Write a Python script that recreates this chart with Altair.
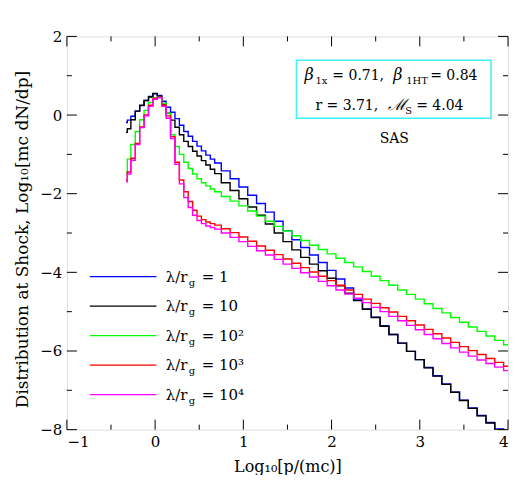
import altair as alt
import pandas as pd

# ---------------- data ----------------
x_vals = [-0.33, -0.30, -0.25, -0.20, -0.15, -0.10, -0.05, 0.00, 0.05, 0.10, 0.15,
          0.20, 0.25, 0.30, 0.35, 0.40, 0.45, 0.50, 0.55, 0.60, 0.65, 0.70,
          0.8, 0.9, 1.0, 1.1, 1.2, 1.3, 1.4, 1.5, 1.6, 1.7, 1.8, 1.9, 2.0, 2.1,
          2.2, 2.3, 2.4, 2.5, 2.6, 2.7, 2.8, 2.9, 3.0, 3.1, 3.2, 3.3, 3.4, 3.5,
          3.6, 3.7, 3.8, 3.9, 4.0]

y_blue = [-0.19, -0.13, -0.03, 0.10, 0.24, 0.37, 0.47, 0.54, 0.50, 0.35, 0.20,
          0.07, -0.09, -0.26, -0.42, -0.54, -0.67, -0.79, -0.91, -1.02, -1.12, -1.22,
          -1.42, -1.62, -1.83, -2.04, -2.25, -2.47, -2.70, -2.94, -3.17, -3.37, -3.56,
          -3.75, -3.95, -4.17, -4.40, -4.68, -4.93, -5.14, -5.36, -5.58, -5.80, -6.01,
          -6.22, -6.42, -6.63, -6.84, -7.05, -7.25, -7.45, -7.64, -7.82, -7.98, -8.15]

y_black = [-0.44, -0.35, -0.12, 0.10, 0.25, 0.37, 0.46, 0.55, 0.48, 0.27, 0.05,
           -0.13, -0.31, -0.50, -0.67, -0.80, -0.92, -1.04, -1.16, -1.27, -1.38, -1.49,
           -1.72, -1.92, -2.13, -2.34, -2.55, -2.77, -3.00, -3.22, -3.43, -3.62, -3.79,
           -3.96, -4.15, -4.34, -4.53, -4.72, -4.94, -5.15, -5.37, -5.58, -5.80, -6.01,
           -6.22, -6.43, -6.64, -6.85, -7.05, -7.26, -7.46, -7.65, -7.83, -8.00, -8.18]

y_green = [-1.48, -1.12, -0.75, -0.42, -0.12, 0.12, 0.32, 0.44, 0.45, 0.30, 0.05,
           -0.50, -0.80, -1.00, -1.20, -1.36, -1.50, -1.62, -1.72, -1.80, -1.88, -1.95,
           -2.07, -2.19, -2.31, -2.44, -2.57, -2.70, -2.83, -2.95, -3.07, -3.19, -3.31,
           -3.42, -3.53, -3.64, -3.75, -3.86, -3.98, -4.10, -4.21, -4.33, -4.45, -4.56,
           -4.68, -4.80, -4.92, -5.03, -5.15, -5.27, -5.39, -5.50, -5.62, -5.73, -5.84]

y_red = [-1.65, -1.45, -1.10, -0.72, -0.30, 0.00, 0.25, 0.42, 0.45, 0.25, -0.02,
         -0.55, -1.20, -1.65, -1.95, -2.20, -2.42, -2.57, -2.66, -2.72, -2.76, -2.80,
         -2.89, -2.99, -3.10, -3.21, -3.33, -3.44, -3.55, -3.66, -3.77, -3.88, -3.99,
         -4.10, -4.21, -4.33, -4.45, -4.56, -4.68, -4.79, -4.90, -5.01, -5.12, -5.23,
         -5.34, -5.45, -5.56, -5.67, -5.78, -5.89, -5.99, -6.09, -6.19, -6.29, -6.39]

y_magenta = [-1.70, -1.50, -1.15, -0.75, -0.32, -0.02, 0.22, 0.40, 0.44, 0.22, -0.08,
             -0.60, -1.25, -1.75, -2.10, -2.35, -2.55, -2.68, -2.76, -2.82, -2.86, -2.90,
             -3.00, -3.11, -3.22, -3.34, -3.45, -3.56, -3.67, -3.79, -3.90, -4.01, -4.12,
             -4.23, -4.34, -4.45, -4.55, -4.66, -4.77, -4.89, -5.00, -5.12, -5.23, -5.35,
             -5.46, -5.58, -5.69, -5.81, -5.92, -6.03, -6.13, -6.23, -6.32, -6.41, -6.50]

series_keys = ["s1", "s10", "s100", "s1000", "s10000"]
series_values = ["1", "10", "10²", "10³", "10⁴"]
series_colors = ["#0000ff", "#000000", "#00ff00", "#ff0000", "#ff00ff"]
series_y = [y_blue, y_black, y_green, y_red, y_magenta]

x_ticks = [-1, 0, 1, 2, 3, 4]
y_ticks = [2, 0, -2, -4, -6, -8]
x_minor = [-0.5, 0.5, 1.5, 2.5, 3.5]
y_minor = [1, -1, -3, -5, -7]

# ---------------- layout ----------------
W, H = 442, 394
FONT = "DejaVu Serif"

rows = []
for key, ys in zip(series_keys, series_y):
    for xv, yv in zip(x_vals, ys):
        rows.append({"x": xv, "y": yv, "s": key})
df = pd.DataFrame(rows)

xs = alt.Scale(domain=[-1, 4], nice=False, zero=False)
ys_ = alt.Scale(domain=[-8, 2], nice=False, zero=False)
cs = alt.Scale(domain=series_keys, range=series_colors)

lines = alt.Chart(df).mark_line(interpolate="step", clip=True, strokeWidth=1.4).encode(
    x=alt.X("x:Q", scale=xs,
            axis=alt.Axis(values=x_ticks, format="d", ticks=False, tickSize=0, domain=False,
                          grid=False, labelFont=FONT, labelFontSize=15, labelPadding=5,
                          labelColor="black", title="Log₁₀[p/(mc)]", titleFont=FONT,
                          titleFontSize=16, titleFontWeight="normal", titlePadding=9,
                          titleColor="black")),
    y=alt.Y("y:Q", scale=ys_,
            axis=alt.Axis(values=y_ticks, format="d", ticks=False, tickSize=0, domain=False,
                          grid=False, labelFont=FONT, labelFontSize=15, labelPadding=5,
                          labelColor="black",
                          title="Distribution at Shock,    Log₁₀[mc dN/dp]", titleFont=FONT,
                          titleFontSize=17, titleFontWeight="normal", titlePadding=8,
                          titleY=203, titleColor="black")),
    color=alt.Color("s:N", scale=cs, legend=None),
    detail="s:N",
)

# legend (inside plot)
leg = pd.DataFrame({"s": series_keys, "val": series_values, "i": list(range(5))})
leg_base = alt.Chart(leg).transform_calculate(
    ly="-4.11 - 0.75 * datum.i", lx1="-0.74", lx2="0.015", tx="0.12"
)
leg_rules = leg_base.mark_rule(strokeWidth=1.4).encode(
    x=alt.X("lx1:Q", scale=xs), x2="lx2:Q", y=alt.Y("ly:Q", scale=ys_),
    color=alt.Color("s:N", scale=cs, legend=None))
leg_t1 = leg_base.mark_text(align="left", baseline="alphabetic", dy=5, font=FONT,
                            fontSize=15, color="black").encode(
    x=alt.X("tx:Q", scale=xs), y=alt.Y("ly:Q", scale=ys_), text=alt.value("λ/r"))
leg_t2 = leg_base.mark_text(align="left", baseline="alphabetic", dx=23, dy=9, font=FONT,
                            fontSize=10, color="black").encode(
    x=alt.X("tx:Q", scale=xs), y=alt.Y("ly:Q", scale=ys_), text=alt.value("g"))
leg_t3 = leg_base.mark_text(align="left", baseline="alphabetic", dx=36, dy=5, font=FONT,
                            fontSize=15, color="black").encode(
    x=alt.X("tx:Q", scale=xs), y=alt.Y("ly:Q", scale=ys_),
    text=alt.Text("lab:N")).transform_calculate(lab="'= ' + datum.val")

# annotation box
one = pd.DataFrame({"a": [0]})
box = alt.Chart(one).mark_rect(fill=None, stroke="#40f0f8", strokeWidth=1.5).encode(
    x=alt.value(230), x2=alt.value(425), y=alt.value(24), y2=alt.value(82))

pieces = [
    ("β", 238, 44, 16, "italic"),
    ("1x", 249, 48, 10, "normal"),
    ("= 0.71,", 266, 44, 14, "normal"),
    ("β", 327, 44, 16, "italic"),
    ("1HT", 340, 48, 10, "normal"),
    ("= 0.84", 364, 44, 14, "normal"),
    ("r = 3.71,", 249, 74, 14, "normal"),
    ("ℳ", 322, 74, 16, "italic"),
    ("S", 339, 78, 10, "normal"),
    ("= 4.04", 350, 74, 14, "normal"),
]
ann = []
for t, px, py, fs, st in pieces:
    ann.append(alt.Chart(one).mark_text(align="left", baseline="alphabetic", font=FONT,
                                        fontSize=fs, fontStyle=st, color="black").encode(
        x=alt.value(px), y=alt.value(py), text=alt.value(t)))
ann.append(alt.Chart(one).mark_text(align="center", baseline="alphabetic", font=FONT,
                                    fontSize=14, color="black").encode(
    x=alt.value(328), y=alt.value(107), text=alt.value("SAS")))

# inward ticks on all four sides
tick_layers = []
for vals, L in [(x_ticks, 10), (x_minor, 5)]:
    tdf = pd.DataFrame({"v": vals})
    tick_layers.append(alt.Chart(tdf).mark_rule(color="black", strokeWidth=1).encode(
        x=alt.X("v:Q", scale=xs), y=alt.value(H), y2=alt.value(H - L)))
    tick_layers.append(alt.Chart(tdf).mark_rule(color="black", strokeWidth=1).encode(
        x=alt.X("v:Q", scale=xs), y=alt.value(0), y2=alt.value(L)))
for vals, L in [(y_ticks, 10), (y_minor, 5)]:
    tdf = pd.DataFrame({"v": vals})
    tick_layers.append(alt.Chart(tdf).mark_rule(color="black", strokeWidth=1).encode(
        y=alt.Y("v:Q", scale=ys_), x=alt.value(0), x2=alt.value(L)))
    tick_layers.append(alt.Chart(tdf).mark_rule(color="black", strokeWidth=1).encode(
        y=alt.Y("v:Q", scale=ys_), x=alt.value(W), x2=alt.value(W - L)))

chart = alt.layer(lines, leg_rules, leg_t1, leg_t2, leg_t3, box, *ann, *tick_layers).properties(
    width=W, height=H,
    autosize=alt.AutoSizeParams(type="none"),
    padding={"left": 59, "top": 28, "right": 10, "bottom": 45},
).configure_view(stroke="black", strokeWidth=1).configure(background="white")

chart.save("out.html", embed_options={"renderer": "svg", "actions": False})
